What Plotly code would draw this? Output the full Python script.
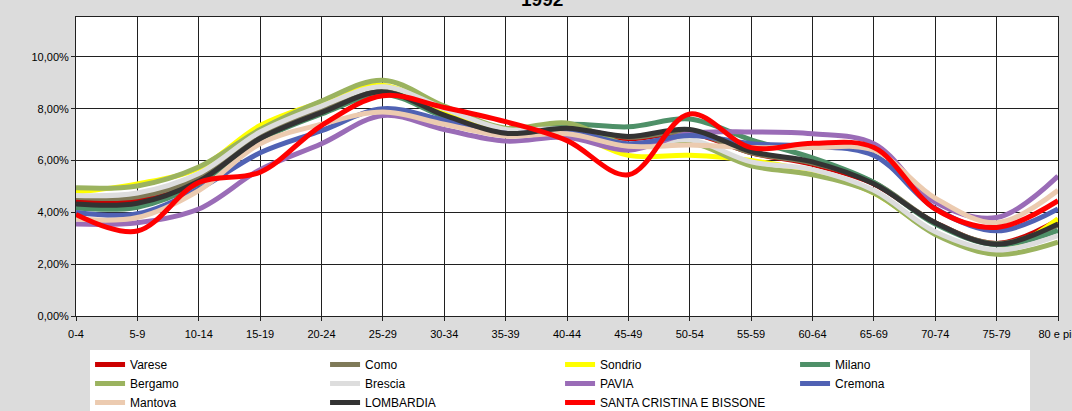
import plotly.graph_objects as go

# age groups
age_groups = ['0-4', '5-9', '10-14', '15-19', '20-24', '25-29', '30-34', '35-39',
              '40-44', '45-49', '50-54', '55-59', '60-64', '65-69', '70-74', '75-79', '80 e più']

# share of population per age group (%), 1992
varese = [4.45, 4.50, 5.25, 6.90, 7.90, 8.60, 7.80, 7.05, 7.20, 6.85, 7.05, 6.30, 5.85, 5.10, 3.60, 2.80, 3.70]
como = [4.58, 4.60, 5.35, 6.95, 7.95, 8.70, 7.75, 7.10, 7.25, 6.90, 7.10, 6.30, 5.90, 5.15, 3.60, 2.80, 3.50]
sondrio = [4.78, 5.10, 5.70, 7.35, 8.25, 8.90, 7.90, 7.10, 7.10, 6.20, 6.20, 6.00, 5.55, 4.75, 3.20, 2.50, 3.75]
milano = [4.17, 4.20, 5.10, 6.80, 7.80, 8.55, 7.70, 7.05, 7.40, 7.30, 7.60, 6.80, 6.10, 5.15, 3.55, 2.75, 3.30]
bergamo = [4.95, 5.02, 5.75, 7.20, 8.30, 9.10, 8.10, 7.25, 7.45, 6.60, 6.70, 5.80, 5.45, 4.75, 3.15, 2.38, 2.85]
brescia = [4.65, 4.75, 5.50, 7.10, 8.10, 8.85, 8.00, 7.20, 7.20, 6.50, 6.80, 5.95, 5.65, 4.85, 3.25, 2.55, 3.10]
pavia = [3.55, 3.60, 4.13, 5.65, 6.65, 7.74, 7.20, 6.75, 6.90, 6.40, 7.05, 7.10, 7.03, 6.65, 4.40, 3.80, 5.40]
cremona = [4.00, 3.95, 4.90, 6.30, 7.15, 8.00, 7.55, 7.05, 7.15, 6.65, 6.97, 6.65, 6.55, 6.20, 4.15, 3.29, 4.13]
mantova = [3.74, 3.80, 4.84, 6.65, 7.40, 7.87, 7.40, 6.95, 7.03, 6.55, 6.60, 6.50, 6.50, 6.40, 4.55, 3.60, 4.85]
lombardia = [4.32, 4.35, 5.20, 6.85, 7.85, 8.65, 7.75, 7.05, 7.25, 6.93, 7.20, 6.35, 5.95, 5.10, 3.60, 2.77, 3.55]
santa_cristina = [3.92, 3.28, 5.15, 5.55, 7.35, 8.50, 8.05, 7.50, 6.77, 5.45, 7.80, 6.50, 6.67, 6.50, 4.13, 3.42, 4.45]

series = [
    ('Varese', varese, '#cc0000'),
    ('Como', como, '#7f7a58'),
    ('Sondrio', sondrio, '#ffff00'),
    ('Milano', milano, '#4e9068'),
    ('Bergamo', bergamo, '#9bb35f'),
    ('Brescia', brescia, '#dddddd'),
    ('PAVIA', pavia, '#9a6cb7'),
    ('Cremona', cremona, '#5062b4'),
    ('Mantova', mantova, '#eccbb0'),
    ('LOMBARDIA', lombardia, '#333333'),
    ('SANTA CRISTINA E BISSONE', santa_cristina, '#ff0000'),
]

fig = go.Figure()
for name, vals, color in series:
    fig.add_trace(go.Scatter(
        x=age_groups, y=[v / 100 for v in vals], name=name,
        mode='lines', line=dict(color=color, width=5, shape='spline', smoothing=1.0),
    ))

fig.update_layout(
    width=1072, height=411,
    margin=dict(l=76, r=14, t=17, b=95, autoexpand=False),
    paper_bgcolor='#dcdcdc', plot_bgcolor='white',
    font=dict(family='Arial, Liberation Sans, sans-serif', size=11, color='black'),
    separators=',.',
    legend=dict(orientation='h', xref='container', yref='container',
                x=0.084, y=1 - 350 / 411, xanchor='left', yanchor='top',
                entrywidth=190, entrywidthmode='pixels', bgcolor='white',
                font=dict(size=12), tracegroupgap=0),
    showlegend=True,
)

# title, mostly cut off by the top edge as in the original
fig.add_annotation(text='<b>1992</b>', xref='paper', yref='paper', x=0.475, y=1.06,
                   xanchor='center', yanchor='middle', showarrow=False,
                   font=dict(size=19, color='black'))

fig.update_xaxes(
    type='category', range=[0, 16], showgrid=True, gridcolor='#202020', gridwidth=1,
    showline=True, linecolor='#202020', linewidth=1, mirror=True, automargin=False,
    ticks='outside', ticklen=4, tickcolor='#202020', ticklabelstandoff=4,
)
fig.update_yaxes(
    range=[0, 0.1154], tickvals=[0, 0.02, 0.04, 0.06, 0.08, 0.10], tickformat='.2%',
    showgrid=True, gridcolor='#202020', gridwidth=1, zeroline=False, automargin=False,
    showline=True, linecolor='#202020', linewidth=1, mirror=True,
    ticks='outside', ticklen=4, tickcolor='#202020',
)

# drop the default page margin so the figure fills the window
fig.write_html('out.html', config={'displayModeBar': False},
               post_script="document.body.style.margin='0';"
                           "document.body.style.background='#dcdcdc';")
